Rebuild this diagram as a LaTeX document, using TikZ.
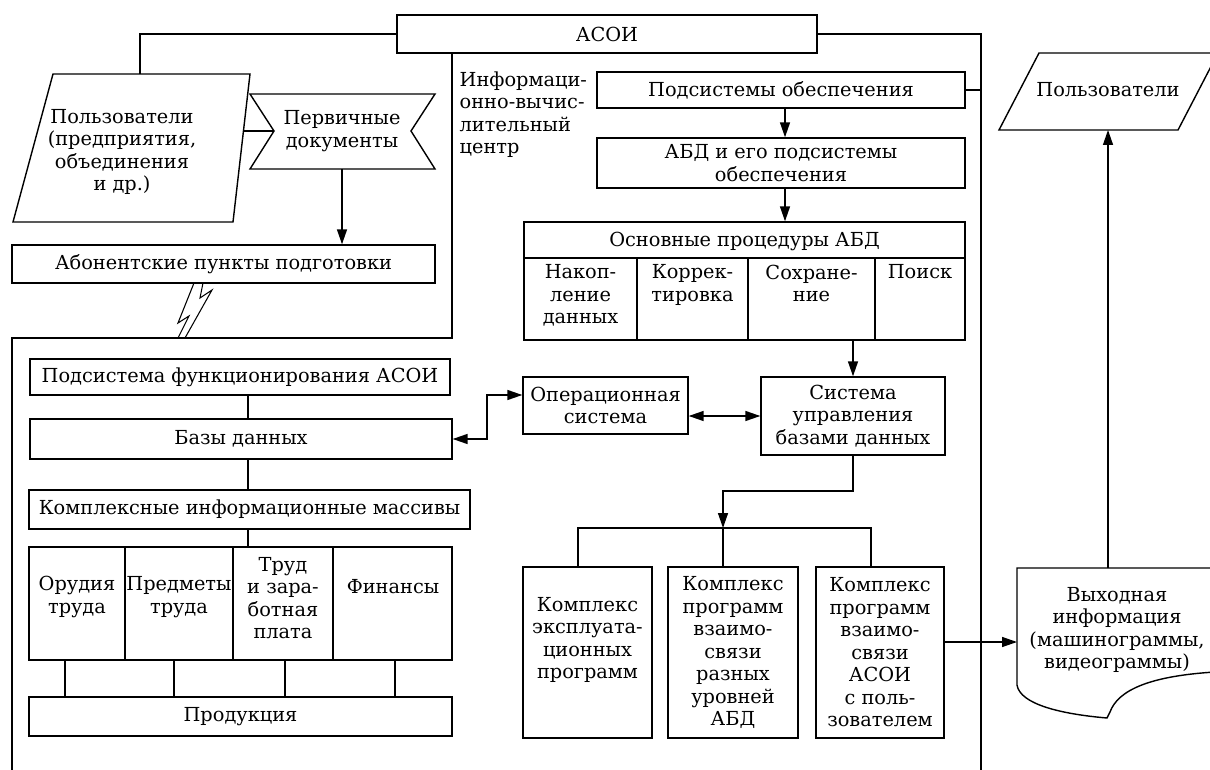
\documentclass[tikz,border=0pt]{standalone}
\usepackage{fontspec}
\setmainfont{DejaVu Serif}
\usetikzlibrary{arrows.meta}

\tikzset{
    blok/.style={draw, inner sep=0pt, align=center, font=\fontsize{11}{12.8}\selectfont},
    tekst/.style={inner sep=0pt, align=center, font=\fontsize{11}{12.8}\selectfont},
}

\begin{document}
\begin{tikzpicture}[x=0.02cm, y=-0.02cm, line width=0.8pt, >={Triangle[length=3mm,width=2mm]}]
                \useasboundingbox (0,0) rectangle (1210,770);

                % верхний блок и пользователи
                \node[blok, minimum width=8.4cm, minimum height=0.76cm] (asoi) at (607,34) {АСОИ};
                \draw (53,74) -- (250,74) -- (233,222) -- (13,222) -- cycle;
                \node[tekst] (usr) at (122,152) {Пользователи\\(предприятия,\\объединения\\и др.)};
                \draw (250,94) -- (435,94) -- (411,131) -- (435,169) -- (250,169) -- (274,131) -- cycle;
                \node[tekst] (prim) at (342,131) {Первичные\\документы};
                \node[blok, minimum width=8.46cm, minimum height=0.76cm] (abon) at (223.5,264) {Абонентские пункты подготовки};
                \coordinate (usrtop) at (140,74);
                \coordinate (usre) at (243,131);
                \coordinate (primw) at (274,131);
                \coordinate (prims) at (342,169);
                \draw (asoi.west) -| (usrtop);
                \draw (usre) -- (primw);
                \draw[->] (prims) -- (prims |- abon.north);

                % канал связи
                \draw[line width=0.6pt] (194,283) -- (178,323) -- (189,316) -- (178,338);
                \draw[line width=0.6pt] (203,283) -- (200,298) -- (212,290) -- (185,338);

                % границы центра
                \coordinate (ivc) at (452,338);
                \coordinate (rline) at (981,770);
                \draw (12,770) |- (ivc) -- (ivc |- asoi.south);
                \draw (asoi.east) -| (rline);
                \node[tekst, anchor=north west, align=left] (ivctext) at (459,71) {Информаци-\\онно-вычис-\\лительный\\центр};

                % АБД
                \coordinate (arrx) at (785,0);
                \node[blok, minimum width=7.36cm, minimum height=0.72cm] (podsys) at (781,90) {Подсистемы обеспечения};
                \node[blok, minimum width=7.36cm, minimum height=1cm] (abd) at (781,163) {АБД и его подсистемы\\обеспечения};
                \node[blok, minimum width=8.82cm, minimum height=2.36cm] (proc) at (744.5,281) {};
                \node[tekst] (prochead) at (744.5,241) {Основные процедуры АБД};
                \draw (524,258) -- (965,258);
                \foreach \x in {637,748,875}
                    \draw (\x,258) -- (\x,340);
                \node[tekst, anchor=north] (nak) at (580.5,264) {Накоп-\\ление\\данных};
                \node[tekst, anchor=north] (kor) at (692.5,264) {Коррек-\\тировка};
                \node[tekst, anchor=north] (sokh) at (811.5,264) {Сохране-\\ние};
                \node[tekst, anchor=north] (poisk) at (920,264) {Поиск};
                \draw (podsys.east) -- (podsys.east -| rline);
                \draw[->] (podsys.south -| arrx) -- (abd.north -| arrx);
                \draw[->] (abd.south -| arrx) -- (proc.north -| arrx);

                \node[blok, minimum width=3.3cm, minimum height=1.14cm] (opsys) at (605.5,405.5) {Операционная\\система};
                \node[blok, minimum width=3.68cm, minimum height=1.56cm] (sysdb) at (853,416) {Система\\управления\\базами данных};
                \draw[->] (proc.south -| sysdb) -- (sysdb.north);
                \draw[<->] (opsys.east |- sysdb) -- (sysdb.west);

                % левая часть
                \coordinate (spine) at (248,0);
                \node[blok, minimum width=8.4cm, minimum height=0.72cm] (funk) at (240,377) {Подсистема функционирования АСОИ};
                \node[blok, minimum width=8.44cm, minimum height=0.8cm] (bases) at (241,439) {Базы данных};
                \node[blok, minimum width=8.82cm, minimum height=0.78cm] (kompl) at (249.5,509.5) {Комплексные информационные массивы};
                \node[blok, minimum width=8.46cm, minimum height=2.26cm] (res) at (240.5,603.5) {};
                \node[blok, minimum width=8.46cm, minimum height=0.78cm] (prod) at (240.5,716.5) {Продукция};
                \foreach \x in {125,233,333}
                    \draw (\x,547) -- (\x,660);
                \node[tekst] (orud) at (77,597) {Орудия\\труда};
                \node[tekst] (pred) at (179,597) {Предметы\\труда};
                \node[tekst] (trud) at (283,598) {Труд\\и зара-\\ботная\\плата};
                \node[tekst] (fin) at (393,587) {Финансы};
                \draw (funk.south -| spine) -- (bases.north -| spine);
                \draw (bases.south -| spine) -- (kompl.north -| spine);
                \draw (kompl.south -| spine) -- (res.north -| spine);
                \foreach \x [count=\i] in {65,174,285,395} {
                    \coordinate (c\i) at (\x,0);
                    \draw (res.south -| c\i) -- (prod.north -| c\i);
                }
                \coordinate (bend) at (487,395);
                \draw[<->] (bases.east) -| (bend) -- (bend -| opsys.west);

                % комплексы программ
                \node[blok, minimum width=2.58cm, minimum height=3.42cm] (p1) at (587.5,652.5) {};
                \node[tekst] (p1text) at (587.5,640) {Комплекс\\эксплуата-\\ционных\\программ};
                \node[blok, minimum width=2.6cm, minimum height=3.42cm] (p2) at (733,652.5) {Комплекс\\программ\\взаимо-\\связи\\разных\\уровней\\АБД};
                \node[blok, minimum width=2.56cm, minimum height=3.42cm] (p3) at (880,652.5) {Комплекс\\программ\\взаимо-\\связи\\АСОИ\\с поль-\\зователем};
                \coordinate (knee) at (853,491);
                \coordinate (fork) at (723,528);
                \coordinate (b1) at (578,0);
                \coordinate (b3) at (871,0);
                \draw[->] (sysdb.south) -- (knee) -| (fork);
                \draw (p1.north -| b1) |- (fork) -| (p3.north -| b3);
                \draw (fork) -- (fork |- p2.north);

                % выходная информация
                \draw (1017,568) -- (1215,568) -- (1215,672) .. controls (1150,676) and (1118,690) .. (1110,712) -- (1107,718) .. controls (1060,714) and (1020,704) .. (1017,685) -- cycle;
                \node[tekst] (out) at (1117,630) {Выходная\\информация\\(машинограммы,\\видеограммы)};
                \draw (1039,53) -- (1218,53) -- (1178,130) -- (999,130) -- cycle;
                \node[tekst] (usr2) at (1108,90) {Пользователи};
                \coordinate (outw) at (1017,642);
                \coordinate (outn) at (1108,568);
                \coordinate (usr2s) at (1108,130);
                \draw[->] (p3.east |- outw) -- (outw);
                \draw[->] (outn) -- (usr2s);
\end{tikzpicture}
\end{document}
